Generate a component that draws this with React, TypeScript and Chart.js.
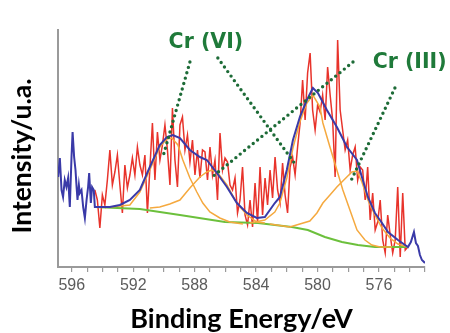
import React, { useEffect, useRef } from 'react';
import { Chart, registerables } from 'chart.js';

Chart.register(...registerables);

// ---- axis ----
const X_MIN = 573;
const X_MAX = 596.9;
const Y_MIN = 0;
const Y_MAX = 237;
const MAJOR_TICKS = [596, 592, 588, 584, 580, 576];
const MINOR_TICKS = [573, 574, 575, 576, 577, 578, 579, 580, 581, 582, 583, 584, 585, 586, 587, 588, 589, 590, 591, 592, 593, 594, 595, 596];
const X_TITLE = 'Binding Energy/eV';
const Y_TITLE = 'Intensity/u.a.';

// ---- measured spectrum (red), uniform energy step ----
const RED_START = 594.5;
const RED_STEP = 0.163;
const RED_COUNTS = [
  77, 67, 39, 72, 62, 87, 117, 82, 95, 112,
  82, 54, 102, 79, 92, 109, 92, 120, 102, 92,
  112, 54, 99, 144, 87, 135, 107, 122, 142, 117,
  82, 159, 107, 80, 142, 150, 117, 132, 105, 127,
  92, 117, 89, 117, 115, 87, 120, 92, 107, 67,
  134, 97, 109, 105, 82, 77, 89, 54, 67, 100,
  52, 42, 67, 40, 84, 44, 100, 52, 89, 62,
  97, 69, 110, 77, 64, 104, 72, 54, 100, 110,
  92, 120, 144, 187, 147, 194, 214, 157, 137, 162,
  155, 172, 147, 200, 172, 147, 90, 227, 157, 137,
  117, 127, 97, 112, 120, 87, 100, 97, 67, 100,
  47, 74, 37, 45, 67, 27, 14, 52, 32, 14,
  27, 80, 10, 74, 17, 20,
];

// ---- blue: raw tails + fitted envelope ----
const ENVELOPE: [number, number][] = [
  [596.89, 90], [596.78, 109], [596.67, 77], [596.57, 70], [596.46, 87], [596.35, 80],
  [596.24, 89], [596.13, 60], [596.02, 110], [595.95, 135], [595.85, 110], [595.76, 97],
  [595.69, 80], [595.63, 67], [595.54, 82], [595.48, 74], [595.37, 77], [595.26, 60],
  [595.15, 49], [595.04, 67], [594.94, 80], [594.87, 94], [594.76, 64], [594.68, 80],
  [594.57, 77], [594.5, 60],
  [593.52, 60], [592.87, 62], [592.22, 67], [591.57, 77], [590.92, 100], [590.27, 122],
  [589.81, 130], [589.42, 132], [588.96, 129], [588.31, 117], [587.66, 110], [587.21, 107],
  [586.55, 94], [585.9, 80], [585.25, 64], [584.6, 54], [583.95, 49], [583.43, 50],
  [582.78, 64], [582.45, 70], [582.0, 97], [581.6, 127], [581.15, 150], [580.69, 167],
  [580.3, 179], [579.97, 174], [579.39, 157], [578.74, 140], [578.08, 120], [577.43, 107],
  [577.11, 90], [576.72, 70], [576.26, 54], [575.8, 44], [575.41, 35], [574.76, 27],
  [574.11, 20],
  [573.92, 25], [573.72, 35], [573.59, 24], [573.46, 21], [573.33, 12], [573.2, 7], [573.0, 4],
];

// ---- green: background ----
const BASELINE: [number, number][] = [
  [594.5, 60], [591.57, 58], [588.96, 52], [586.03, 45], [583.88, 44], [581.67, 40],
  [580.63, 37], [579.52, 30], [578.41, 25], [577.37, 22], [576.26, 20], [574.11, 20],
];

// ---- orange: fitted components ----
const CR6_2P12: [number, number][] = [
  [593.52, 60], [592.22, 62], [591.57, 75], [590.92, 97], [590.27, 120], [589.81, 128],
  [589.49, 129], [589.09, 122], [588.77, 107], [588.31, 89], [587.86, 75], [587.47, 64],
  [587.01, 55], [586.36, 49], [585.71, 45], [584.86, 43],
];
const CR3_2P12: [number, number][] = [
  [590.92, 59], [590.27, 60], [589.62, 63], [588.96, 67], [588.31, 79], [587.66, 90],
  [587.21, 95], [586.88, 97], [586.49, 94], [585.9, 82], [585.25, 64], [584.6, 52],
  [583.95, 45], [583.43, 44],
];
const CR6_2P32: [number, number][] = [
  [584.4, 44], [583.43, 47], [582.78, 55], [582.45, 64], [582.0, 89], [581.6, 119],
  [581.15, 145], [580.69, 164], [580.3, 172], [579.84, 160], [579.65, 144], [579.19, 120],
  [578.74, 97], [578.35, 77], [577.89, 57], [577.43, 37], [576.91, 27], [576.46, 22],
  [575.93, 20], [575.15, 20],
];
const CR3_2P32: [number, number][] = [
  [583.11, 43], [581.8, 40], [581.15, 43], [580.5, 46], [580.04, 54], [579.65, 64],
  [579.19, 72], [578.74, 80], [578.22, 88], [577.76, 95], [577.43, 96], [577.11, 85],
  [576.72, 67], [576.26, 52], [575.8, 39], [575.28, 29], [574.76, 23], [574.11, 20],
];

// ---- annotations (data units) ----
const LABEL_TEXTS = ['Cr (VI)', 'Cr (III)'];
const LABEL_AT: [number, number][] = [[587.27, 224], [574.0, 204]];
const POINTERS: [number, number, number, number][] = [
  [588.31, 205, 590.07, 110],
  [586.49, 209, 581.41, 102],
  [577.69, 205, 586.94, 89],
  [574.96, 179, 577.89, 84],
];

const toXY = (arr: [number, number][]) => arr.map(([x, y]) => ({ x, y }));

export default function App() {
  const ref = useRef<HTMLCanvasElement | null>(null);

  useEffect(() => {
    const canvas = ref.current;
    if (!canvas) return;

    const redData = RED_COUNTS.map((v, i) => ({ x: RED_START - i * RED_STEP, y: v }));

    const annotate = {
      id: 'annotate',
      afterDatasetsDraw(chart: any) {
        const { ctx } = chart;
        const xs = chart.scales.x;
        const ys = chart.scales.y;
        ctx.save();
        ctx.strokeStyle = '#1d6b37';
        ctx.lineWidth = 3.4;
        ctx.lineCap = 'round';
        ctx.setLineDash([0, 5.6]);
        for (const [e1, i1, e2, i2] of POINTERS) {
          ctx.beginPath();
          ctx.moveTo(xs.getPixelForValue(e1), ys.getPixelForValue(i1));
          ctx.lineTo(xs.getPixelForValue(e2), ys.getPixelForValue(i2));
          ctx.stroke();
        }
        ctx.setLineDash([]);
        ctx.fillStyle = '#1f7a3a';
        ctx.font = 'bold 20.5px "DejaVu Sans"';
        ctx.textAlign = 'center';
        ctx.textBaseline = 'middle';
        LABEL_TEXTS.forEach((t, k) => {
          ctx.fillText(t, xs.getPixelForValue(LABEL_AT[k][0]), ys.getPixelForValue(LABEL_AT[k][1]));
        });
        ctx.restore();
      },
      afterDraw(chart: any) {
        const { ctx, chartArea } = chart;
        ctx.save();
        ctx.fillStyle = '#000';
        ctx.font = 'bold 26.5px Lato';
        ctx.textAlign = 'center';
        ctx.textBaseline = 'middle';
        ctx.translate(22.5, (chartArea.top + chartArea.bottom) / 2 + 7.5);
        ctx.rotate(-Math.PI / 2);
        ctx.fillText(Y_TITLE, 0, 0);
        ctx.restore();
      },
    };

    const line = (data: any[], color: string, width: number, order: number) => ({
      data,
      borderColor: color,
      borderWidth: width,
      pointRadius: 0,
      tension: 0,
      fill: false,
      order,
    });

    const chart = new Chart(canvas, {
      type: 'line',
      data: {
        datasets: [
          line(redData, '#e8332b', 1.5, 5),
          line(toXY(BASELINE), '#6cc03c', 2, 3),
          line(toXY(CR6_2P12), '#f5a93f', 1.5, 2),
          line(toXY(CR3_2P12), '#f5a93f', 1.5, 2),
          line(toXY(CR6_2P32), '#f5a93f', 1.5, 2),
          line(toXY(CR3_2P32), '#f5a93f', 1.5, 2),
          line(toXY(ENVELOPE), '#3a3aa8', 2, 1),
        ] as any,
      },
      options: {
        animation: false,
        responsive: false,
        maintainAspectRatio: false,
        layout: { padding: { top: 30, right: 25, left: 0, bottom: 0 } },
        plugins: { legend: { display: false }, tooltip: { enabled: false } },
        scales: {
          x: {
            type: 'linear',
            reverse: true,
            min: X_MIN,
            max: X_MAX,
            afterBuildTicks: (scale: any) => {
              scale.ticks = MINOR_TICKS.map((v) => ({ value: v }));
            },
            afterFit: (scale: any) => {
              scale.height = 66;
            },
            grid: {
              display: true,
              drawOnChartArea: false,
              drawTicks: true,
              tickLength: 5,
              color: '#9a9a9a',
              lineWidth: 1.2,
            },
            border: { display: true, color: '#9a9a9a', width: 2 },
            ticks: {
              autoSkip: false,
              maxRotation: 0,
              padding: 4,
              color: '#5c5c5c',
              font: { family: '"Liberation Sans", Arial, sans-serif', size: 16 },
              callback: (v: any) => (MAJOR_TICKS.includes(Number(v)) ? String(v) : ''),
            },
            title: {
              display: true,
              text: X_TITLE,
              color: '#000',
              font: { family: 'Lato', weight: 'bold', size: 27, lineHeight: 1 },
              padding: { top: 0, bottom: 0 },
            },
          },
          y: {
            type: 'linear',
            min: Y_MIN,
            max: Y_MAX,
            afterFit: (scale: any) => {
              scale.width = 58;
            },
            grid: { display: false },
            border: { display: true, color: '#9a9a9a', width: 2 },
            ticks: { display: false },
            title: { display: false },
          },
        },
      } as any,
      plugins: [annotate],
    });

    return () => chart.destroy();
  }, []);

  return (
    <div style={{ position: 'fixed', left: 0, top: 0, width: 450, height: 333, background: '#fff' }}>
      <canvas ref={ref} width={450} height={333} style={{ width: 450, height: 333, display: 'block' }} />
    </div>
  );
}
